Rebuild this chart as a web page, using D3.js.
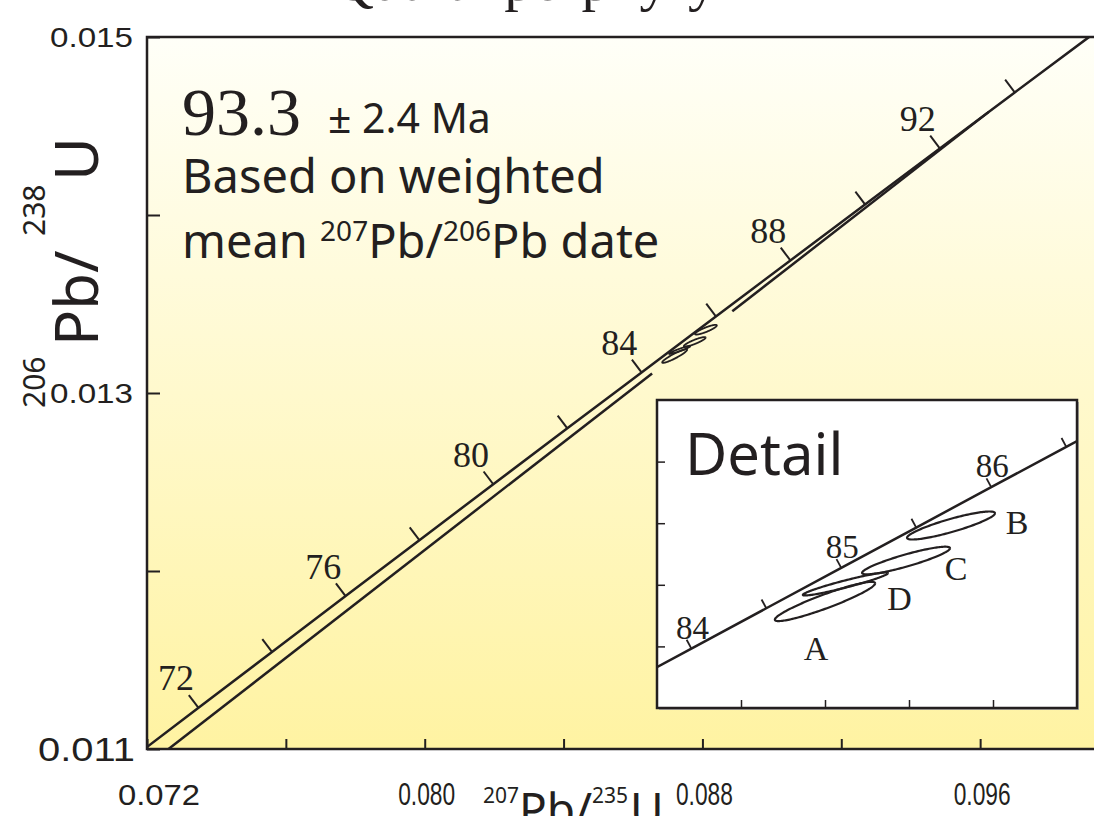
<!DOCTYPE html>
<html>
<head>
<meta charset="utf-8">
<script src="https://cdn.jsdelivr.net/npm/d3@7"></script>
<style>
  body { margin: 0; background: #fff; }
  svg { display: block; }
</style>
</head>
<body>
<svg id="chart" width="1094" height="816"></svg>
<script>
/*
  Concordia diagram: 206Pb/238U vs 207Pb/235U
  Main panel plus a "Detail" inset around the analyses
*/

// ---- data ----
const xTicks = [0.072, 0.076, 0.080, 0.084, 0.088, 0.092, 0.096, 0.100];
const xTickLabels = [0.072, 0.080, 0.088, 0.096];
const yTicks = [0.011, 0.012, 0.013, 0.014, 0.015];
const yTickLabels = [0.011, 0.013, 0.015];
const insetXTicks = [0.0866, 0.0872, 0.0878, 0.0884];
const insetYTicks = [0.01312, 0.01324, 0.01336, 0.01348];

// concordia points (age in Ma, 207Pb/235U, 206Pb/238U)
const concordiaAges = [70, 72, 74, 76, 78, 80, 82, 83.5, 84, 84.5, 85, 85.5, 86, 86.5, 87, 88, 90, 92, 94, 96];
const concordiaX = [0.0713713, 0.0734838, 0.0756003, 0.0777209, 0.0798459, 0.0819749, 0.0841082, 0.0857109,
  0.0862457, 0.0867807, 0.0873160, 0.0878515, 0.0883873, 0.0889233, 0.0894597, 0.0905333, 0.0926834,
  0.0948377, 0.0969964, 0.0991592];
const concordiaY = [0.0109179, 0.0112316, 0.0115454, 0.0118593, 0.0121733, 0.0124873, 0.0128015, 0.0130372,
  0.0131158, 0.0131943, 0.0132729, 0.0133515, 0.0134302, 0.0135088, 0.0135874, 0.0137446, 0.0140593,
  0.0143738, 0.0146886, 0.0150035];

const mainTickAges = [72, 74, 76, 78, 80, 82, 84, 86, 88, 90, 92, 94];
const mainLabelAges = [72, 76, 80, 84, 88, 92];
const insetTickAges = [84, 84.5, 85, 85.5, 86, 86.5];
const insetLabelAges = [84, 85, 86];

// Pb-loss line towards the 93.3 Ma point, broken around the analyses
const discordiaSegments = [
  [[0.07262, 0.011000], [0.08655, 0.013110]],
  [[0.08886, 0.013459], [0.09624, 0.014578]]
];

// analyses: centre, x/y half extents and correlation
const analysisNames = ['A', 'B', 'C', 'D'];
const analysisCx = [0.087200, 0.088100, 0.087779, 0.087346];
const analysisCy = [0.0132075, 0.0133555, 0.0132873, 0.0132416];
const analysisSx = [0.000358, 0.000314, 0.000314, 0.000304];
const analysisSy = [0.0000382, 0.0000273, 0.0000269, 0.0000224];
const analysisRho = [0.926, 0.876, 0.892, 0.948];

const inkColor = '#231f20';
const serif = '"Liberation Serif", "Times New Roman", serif';
const sans = '"Noto Sans", "Open Sans", sans-serif';
const tickFont = '"Liberation Sans", Arial, sans-serif';

const concordia = concordiaAges.map((age, i) => ({ age, x: concordiaX[i], y: concordiaY[i] }));
const analyses = analysisNames.map((name, i) => ({
  name, cx: analysisCx[i], cy: analysisCy[i], sx: analysisSx[i], sy: analysisSy[i], rho: analysisRho[i]
}));

// ---- scales ----
const scale = {};
scale.x = d3.scaleLinear().domain([0.072, 0.100]).range([147, 1119]);
scale.y = d3.scaleLinear().domain([0.011, 0.015]).range([749, 37]);
scale.ix = d3.scaleLinear().domain([0.086, 0.089]).range([657, 1077]);
scale.iy = d3.scaleLinear().domain([0.0130, 0.0136]).range([708, 400]);

const svg = d3.select('#chart');
const defs = svg.append('defs');

const grad = defs.append('linearGradient')
  .attr('id', 'bg').attr('x1', 0).attr('y1', 0).attr('x2', 0).attr('y2', 1);
grad.append('stop').attr('offset', '0%').attr('stop-color', '#fffff8');
grad.append('stop').attr('offset', '100%').attr('stop-color', '#fff3a2');

defs.append('clipPath').attr('id', 'clipMain')
  .append('rect')
  .attr('x', scale.x(0.072)).attr('y', scale.y(0.015))
  .attr('width', scale.x(0.100) - scale.x(0.072))
  .attr('height', scale.y(0.011) - scale.y(0.015));

defs.append('clipPath').attr('id', 'clipInset')
  .append('rect')
  .attr('x', scale.ix(0.086)).attr('y', scale.iy(0.0136))
  .attr('width', scale.ix(0.089) - scale.ix(0.086))
  .attr('height', scale.iy(0.0130) - scale.iy(0.0136));

// cut-off title at the very top
svg.append('text')
  .attr('x', 332).attr('y', 0)
  .style('font-family', serif).style('font-size', '58px').style('fill', inkColor)
  .text('Quartz porphyry');

// ---- main panel ----
svg.append('rect')
  .attr('x', scale.x(0.072)).attr('y', scale.y(0.015))
  .attr('width', scale.x(0.100) - scale.x(0.072))
  .attr('height', scale.y(0.011) - scale.y(0.015))
  .attr('fill', 'url(#bg)');

// tick marks
const axisX = d3.axisBottom(scale.x).tickValues(xTicks).tickSizeInner(-10).tickSizeOuter(0).tickFormat('');
const axisY = d3.axisLeft(scale.y).tickValues(yTicks).tickSizeInner(-13).tickSizeOuter(0).tickFormat('');

svg.append('g').attr('transform', `translate(0,${scale.y(0.011)})`).call(axisX)
  .call(g => g.select('.domain').remove())
  .call(g => g.selectAll('line').attr('stroke', inkColor).attr('stroke-width', 2));
svg.append('g').attr('transform', `translate(${scale.x(0.072)},0)`).call(axisY)
  .call(g => g.select('.domain').remove())
  .call(g => g.selectAll('line').attr('stroke', inkColor).attr('stroke-width', 2));

// tick labels
svg.append('g').selectAll('text')
  .data(yTickLabels)
  .join('text')
  .attr('x', d => d === 0.011 ? 135 : 133)
  .attr('y', d => scale.y(d) + (d === 0.011 ? 12 : 10))
  .attr('text-anchor', 'end')
  .attr('textLength', d => d === 0.011 ? 97 : 83)
  .attr('lengthAdjust', 'spacingAndGlyphs')
  .style('font-family', tickFont)
  .style('font-size', d => d === 0.011 ? '33px' : '28px')
  .style('fill', inkColor)
  .text(d => d3.format('.3f')(d));

svg.append('g').selectAll('text')
  .data(xTickLabels)
  .join('text')
  .attr('x', d => d === 0.072 ? scale.x(d) + 12 : scale.x(d) + 2)
  .attr('y', 805)
  .attr('text-anchor', 'middle')
  .attr('textLength', d => d === 0.072 ? 82 : 57)
  .attr('lengthAdjust', 'spacingAndGlyphs')
  .style('font-family', tickFont)
  .style('font-size', d => d === 0.072 ? '29px' : '31px')
  .style('fill', inkColor)
  .text(d => d3.format('.3f')(d));

// axis titles (rotated frame: local x runs up the page)
const yTitle = svg.append('text')
  .attr('transform', 'translate(98,0) rotate(-90)')
  .style('font-family', sans).style('fill', inkColor);
yTitle.append('tspan').attr('x', -408).attr('y', -53).style('font-size', '30px').text('206');
yTitle.append('tspan').attr('x', -346).attr('y', 0).style('font-size', '60px').text('Pb/');
yTitle.append('tspan').attr('x', -236).attr('y', -53).style('font-size', '30px').text('238');
yTitle.append('tspan').attr('x', -181).attr('y', 0).style('font-size', '60px').text('U');

const xTitle = svg.append('text')
  .style('font-family', sans).style('fill', inkColor);
xTitle.append('tspan').attr('x', 483).attr('y', 803).style('font-size', '21px').text('207');
xTitle.append('tspan').attr('x', 519).attr('y', 826).style('font-size', '46px').text('Pb/');
xTitle.append('tspan').attr('x', 592).attr('y', 803).style('font-size', '21px').text('235');
xTitle.append('tspan').attr('x', 630).attr('y', 826).style('font-size', '46px').text('U');

// plotted elements
const body = svg.append('g').attr('clip-path', 'url(#clipMain)');

const lineMain = d3.line().x(d => scale.x(d.x)).y(d => scale.y(d.y));
body.append('path')
  .datum(concordia)
  .attr('d', lineMain)
  .attr('fill', 'none').attr('stroke', inkColor).attr('stroke-width', 2.5);

body.selectAll('.discordia')
  .data(discordiaSegments)
  .join('path')
  .attr('class', 'discordia')
  .attr('d', seg => d3.line().x(d => scale.x(d[0])).y(d => scale.y(d[1]))(seg))
  .attr('fill', 'none').attr('stroke', inkColor).attr('stroke-width', 2.5);

/*
 * Direction perpendicular to the concordia (pointing up-left), in pixel space
 */
function normalAt(age, sx, sy) {
  const i = concordiaAges.indexOf(age);
  const a = concordia[Math.max(i - 1, 0)];
  const b = concordia[Math.min(i + 1, concordia.length - 1)];
  const dx = sx(b.x) - sx(a.x);
  const dy = sy(b.y) - sy(a.y);
  const len = Math.hypot(dx, dy);
  return [dy / len, -dx / len];
}

function ageTicks(group, ages, sx, sy, len, width) {
  group.selectAll('.age-tick')
    .data(ages)
    .join('line')
    .attr('class', 'age-tick')
    .each(function(age) {
      const p = concordia[concordiaAges.indexOf(age)];
      const n = normalAt(age, sx, sy);
      d3.select(this)
        .attr('x1', sx(p.x)).attr('y1', sy(p.y))
        .attr('x2', sx(p.x) + n[0] * len).attr('y2', sy(p.y) + n[1] * len);
    })
    .attr('stroke', inkColor).attr('stroke-width', width);
}

ageTicks(body, mainTickAges, scale.x, scale.y, 16, 2);

body.selectAll('.age-label')
  .data(mainLabelAges)
  .join('text')
  .attr('class', 'age-label')
  .attr('x', age => scale.x(concordia[concordiaAges.indexOf(age)].x) + normalAt(age, scale.x, scale.y)[0] * 37)
  .attr('y', age => scale.y(concordia[concordiaAges.indexOf(age)].y) + normalAt(age, scale.x, scale.y)[1] * 37 + 12)
  .attr('text-anchor', 'middle')
  .style('font-family', serif).style('font-size', '36px').style('fill', inkColor)
  .text(d => d);

function ellipsePoints(e, n = 160) {
  const k = Math.sqrt(1 - e.rho * e.rho);
  return d3.range(n + 1).map(i => {
    const t = 2 * Math.PI * i / n;
    return [e.cx + e.sx * Math.cos(t), e.cy + e.sy * (e.rho * Math.cos(t) + k * Math.sin(t))];
  });
}

body.selectAll('.ellipse')
  .data(analyses)
  .join('path')
  .attr('class', 'ellipse')
  .attr('d', e => d3.line().x(d => scale.x(d[0])).y(d => scale.y(d[1]))(ellipsePoints(e)))
  .attr('fill', 'none').attr('stroke', inkColor).attr('stroke-width', 1.8);

// frame
svg.append('rect')
  .attr('x', scale.x(0.072)).attr('y', scale.y(0.015))
  .attr('width', scale.x(0.100) - scale.x(0.072))
  .attr('height', scale.y(0.011) - scale.y(0.015))
  .attr('fill', 'none').attr('stroke', inkColor).attr('stroke-width', 2.5);

// annotation
const note = svg.append('g').style('fill', inkColor);
note.append('text').attr('x', 182).attr('y', 135)
  .style('font-family', serif).style('font-size', '68px').text('93.3');
note.append('text').attr('x', 328).attr('y', 133)
  .style('font-family', sans).style('font-size', '41px').text('± 2.4 Ma');
note.append('text').attr('x', 182).attr('y', 193)
  .style('font-family', sans).style('font-size', '47px').text('Based on weighted');
const line3 = note.append('text').attr('x', 182).attr('y', 258)
  .style('font-family', sans).style('font-size', '47px');
line3.append('tspan').text('mean ');
line3.append('tspan').attr('dy', -17).style('font-size', '28px').text('207');
line3.append('tspan').attr('dy', 17).text('Pb/');
line3.append('tspan').attr('dy', -17).style('font-size', '28px').text('206');
line3.append('tspan').attr('dy', 17).text('Pb date');

// ---- inset ----
const inset = svg.append('g');
const ix0 = scale.ix(0.086), ix1 = scale.ix(0.089);
const iy0 = scale.iy(0.0136), iy1 = scale.iy(0.0130);

inset.append('rect')
  .attr('x', ix0 + 2).attr('y', iy0 + 2)
  .attr('width', ix1 - ix0).attr('height', iy1 - iy0)
  .attr('fill', '#b5b2a8');
inset.append('rect')
  .attr('x', ix0).attr('y', iy0)
  .attr('width', ix1 - ix0).attr('height', iy1 - iy0)
  .attr('fill', '#fff');

const insetAxisX = d3.axisBottom(scale.ix).tickValues(insetXTicks).tickSizeInner(-8).tickSizeOuter(0).tickFormat('');
const insetAxisY = d3.axisLeft(scale.iy).tickValues(insetYTicks).tickSizeInner(-8).tickSizeOuter(0).tickFormat('');
inset.append('g').attr('transform', `translate(0,${iy1})`).call(insetAxisX)
  .call(g => g.select('.domain').remove())
  .call(g => g.selectAll('line').attr('stroke', inkColor).attr('stroke-width', 1.5));
inset.append('g').attr('transform', `translate(${ix0},0)`).call(insetAxisY)
  .call(g => g.select('.domain').remove())
  .call(g => g.selectAll('line').attr('stroke', inkColor).attr('stroke-width', 1.5));

const insetBody = inset.append('g').attr('clip-path', 'url(#clipInset)');
insetBody.append('path')
  .datum(concordia)
  .attr('d', d3.line().x(d => scale.ix(d.x)).y(d => scale.iy(d.y)))
  .attr('fill', 'none').attr('stroke', inkColor).attr('stroke-width', 2.5);

ageTicks(insetBody, insetTickAges, scale.ix, scale.iy, 10, 1.8);

insetBody.selectAll('.inset-label')
  .data(insetLabelAges)
  .join('text')
  .attr('class', 'inset-label')
  .attr('x', age => scale.ix(concordia[concordiaAges.indexOf(age)].x) + 1)
  .attr('y', age => scale.iy(concordia[concordiaAges.indexOf(age)].y) - 10)
  .attr('text-anchor', 'middle')
  .style('font-family', serif).style('font-size', '33px').style('fill', inkColor)
  .text(d => d);

insetBody.selectAll('.ellipse')
  .data(analyses)
  .join('path')
  .attr('class', 'ellipse')
  .attr('d', e => d3.line().x(d => scale.ix(d[0])).y(d => scale.iy(d[1]))(ellipsePoints(e)))
  .attr('fill', 'none').attr('stroke', inkColor).attr('stroke-width', 2.2);

// analysis letters, offset from each ellipse centre
const letterDx = [-9, 66, 50, 54];
const letterDy = [59, 8, 19, 26];
insetBody.selectAll('.name')
  .data(analyses)
  .join('text')
  .attr('class', 'name')
  .attr('x', (e, i) => scale.ix(e.cx) + letterDx[i])
  .attr('y', (e, i) => scale.iy(e.cy) + letterDy[i])
  .attr('text-anchor', 'middle')
  .style('font-family', serif).style('font-size', '34px').style('fill', inkColor)
  .text(e => e.name);

inset.append('text')
  .attr('x', 685).attr('y', 475)
  .style('font-family', sans).style('font-size', '58px').style('fill', inkColor)
  .text('Detail');

inset.append('rect')
  .attr('x', ix0).attr('y', iy0)
  .attr('width', ix1 - ix0).attr('height', iy1 - iy0)
  .attr('fill', 'none').attr('stroke', inkColor).attr('stroke-width', 2.5);
</script>
</body>
</html>
